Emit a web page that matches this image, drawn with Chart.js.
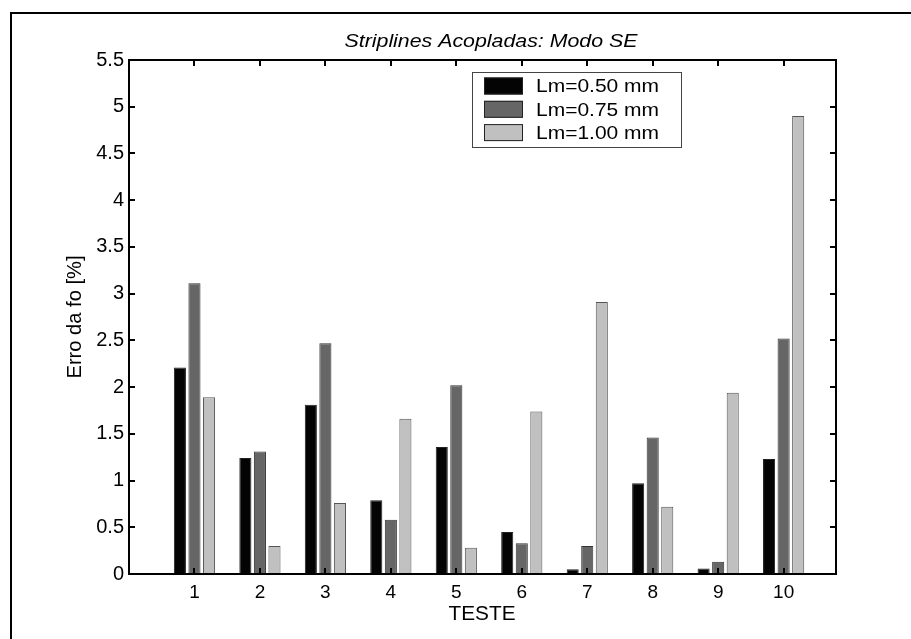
<!DOCTYPE html>
<html>
<head>
<meta charset="utf-8">
<script src="https://cdn.jsdelivr.net/npm/chart.js@4.4.1/dist/chart.umd.min.js"></script>
<style>
  html, body { margin: 0; padding: 0; background: #fff; }
  #wrap { width: 911px; height: 639px; position: relative; }
</style>
</head>
<body>
<div id="wrap"><canvas id="c" width="911" height="639"></canvas></div>
<script>
// ---- data ----
const categories = [1, 2, 3, 4, 5, 6, 7, 8, 9, 10];
const seriesLabels = ['Lm=0.50 mm', 'Lm=0.75 mm', 'Lm=1.00 mm'];
const lm050 = [2.21, 1.24, 1.81, 0.79, 1.36, 0.45, 0.05, 0.97, 0.06, 1.23];
const lm075 = [3.11, 1.31, 2.47, 0.58, 2.02, 0.33, 0.30, 1.46, 0.13, 2.52];
const lm100 = [1.89, 0.30, 0.76, 1.66, 0.28, 1.74, 2.91, 0.72, 1.94, 4.90];
const yTickValues = [0, 0.5, 1, 1.5, 2, 2.5, 3, 3.5, 4, 4.5, 5, 5.5];
const xTickValues = [1, 2, 3, 4, 5, 6, 7, 8, 9, 10];
const titleText = 'Striplines Acopladas: Modo SE';
const xTitle = 'TESTE';
const yTitle = 'Erro da fo [%]';

const FONT = '"Liberation Sans", Arial, Helvetica, sans-serif';
const fills = ['#040404', '#666666', '#c0c0c0'];
const edges = ['#222222', '#333333', '#555555'];

function toPoints(arr) { return categories.map((c, i) => ({ x: c, y: arr[i] })); }

const datasets = [lm050, lm075, lm100].map((arr, k) => ({
  label: seriesLabels[k],
  data: toPoints(arr),
  backgroundColor: fills[k],
  borderColor: edges[k],
  borderWidth: 1,
  borderSkipped: false,
  categoryPercentage: 0.667,
  barPercentage: 0.83
}));

// draw text stretched horizontally to a target width
function fitText(ctx, text, x, y, targetW) {
  const w = ctx.measureText(text).width;
  const sx = targetW ? targetW / w : 1;
  ctx.save();
  ctx.translate(x, y);
  ctx.scale(sx, 1);
  ctx.fillText(text, 0, 0);
  ctx.restore();
}

const decor = {
  id: 'decor',
  afterDraw(chart) {
    const ctx = chart.ctx;
    const a = chart.chartArea;
    const xs = chart.scales.x, ys = chart.scales.y;
    ctx.save();
    // outer frame (cropped at right/bottom)
    ctx.strokeStyle = '#000';
    ctx.lineWidth = 2;
    ctx.strokeRect(11, 13, 1200, 1200);
    // axes box
    ctx.lineWidth = 2;
    ctx.strokeRect(a.left, a.top, a.right - a.left, a.bottom - a.top);
    // inward ticks
    ctx.beginPath();
    ys.ticks.forEach(t => {
      const y = Math.round(ys.getPixelForValue(t.value));
      ctx.moveTo(a.left, y); ctx.lineTo(a.left + 6, y);
      ctx.moveTo(a.right, y); ctx.lineTo(a.right - 6, y);
    });
    xs.ticks.forEach(t => {
      const x = Math.round(xs.getPixelForValue(t.value));
      ctx.moveTo(x, a.top); ctx.lineTo(x, a.top + 6);
      ctx.moveTo(x, a.bottom); ctx.lineTo(x, a.bottom - 6);
    });
    ctx.stroke();
    // title
    ctx.fillStyle = '#000';
    ctx.font = 'italic 18px ' + FONT;
    ctx.textAlign = 'center';
    ctx.textBaseline = 'alphabetic';
    fitText(ctx, titleText, 491, 47, 293);
    // x title
    ctx.font = '21px ' + FONT;
    ctx.textBaseline = 'middle';
    fitText(ctx, xTitle, 482, 614, 67);
    // y title
    ctx.save();
    ctx.translate(75, (a.top + a.bottom) / 2);
    ctx.rotate(-Math.PI / 2);
    ctx.font = '20px ' + FONT;
    fitText(ctx, yTitle, 0, 0, 123);
    ctx.restore();
    // legend
    const lx = 472, ly = 72, lw = 209, lh = 75;
    ctx.fillStyle = '#fff';
    ctx.fillRect(lx, ly, lw, lh);
    ctx.strokeStyle = '#444';
    ctx.lineWidth = 1;
    ctx.strokeRect(lx + 0.5, ly + 0.5, lw, lh);
    ctx.font = '19px ' + FONT;
    const sx = 123 / ctx.measureText(seriesLabels[0]).width;
    chart.data.datasets.forEach((ds, k) => {
      const cy = 86 + k * 23.3;
      ctx.fillStyle = ds.backgroundColor;
      ctx.fillRect(484, cy - 8.5, 39, 17);
      ctx.strokeStyle = '#222';
      ctx.strokeRect(484.5, cy - 8, 38, 16);
      ctx.fillStyle = '#000';
      ctx.textAlign = 'left';
      ctx.textBaseline = 'middle';
      const w = ctx.measureText(ds.label).width;
      fitText(ctx, ds.label, 536, cy + 1, w * sx);
    });
    ctx.restore();
  }
};

new Chart(document.getElementById('c'), {
  type: 'bar',
  data: { datasets },
  options: {
    responsive: false,
    animation: false,
    layout: { padding: { left: 0, top: 60, right: 75, bottom: 0 } },
    plugins: {
      legend: { display: false },
      title: { display: false },
      tooltip: { enabled: false }
    },
    scales: {
      x: {
        type: 'linear',
        offset: false,
        min: 0,
        max: 10.8,
        grid: { display: false, drawTicks: false, offset: false },
        border: { display: false },
        afterBuildTicks(scale) { scale.ticks = xTickValues.map(v => ({ value: v })); },
        afterFit(scale) { scale.height = 65; },
        ticks: {
          color: '#000',
          font: { family: FONT, size: 19 },
          padding: 7,
          maxRotation: 0,
          autoSkip: false,
          callback: v => String(v)
        }
      },
      y: {
        type: 'linear',
        min: 0,
        max: 5.5,
        grid: { display: false, drawTicks: false },
        border: { display: false },
        afterBuildTicks(scale) { scale.ticks = yTickValues.map(v => ({ value: v })); },
        afterFit(scale) { scale.width = 129; },
        ticks: {
          color: '#000',
          font: { family: FONT, size: 20 },
          padding: 5,
          autoSkip: false,
          callback: v => String(v)
        }
      }
    }
  },
  plugins: [decor]
});
</script>
</body>
</html>
